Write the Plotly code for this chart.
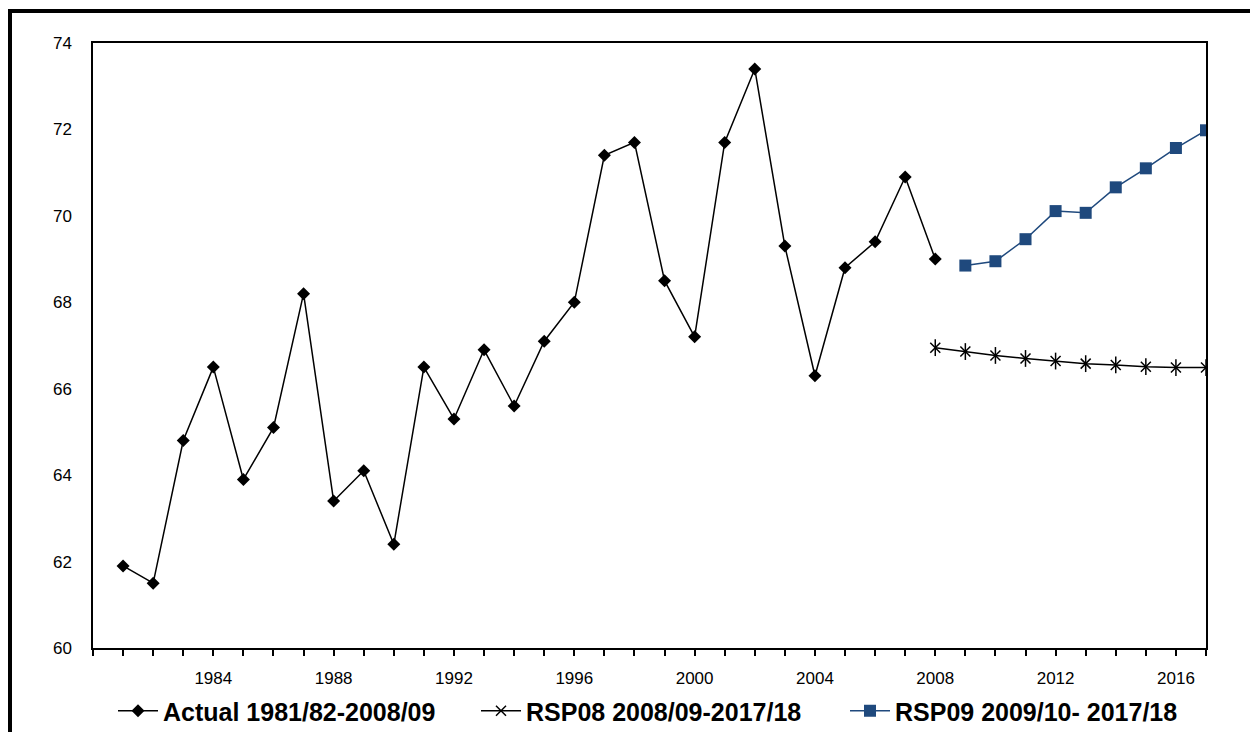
import plotly.graph_objects as go

# ---- data ----
years_actual = list(range(1981, 2009))
actual = [61.9, 61.5, 64.8, 66.5, 63.9, 65.1, 68.2, 63.4, 64.1, 62.4,
          66.5, 65.3, 66.9, 65.6, 67.1, 68.0, 71.4, 71.7, 68.5, 67.2,
          71.7, 73.4, 69.3, 66.3, 68.8, 69.4, 70.9, 69.0]

years_rsp08 = list(range(2008, 2018))
rsp08 = [66.95, 66.86, 66.77, 66.70, 66.64, 66.58, 66.55, 66.51, 66.49, 66.49]

years_rsp09 = list(range(2009, 2018))
rsp09 = [68.85, 68.95, 69.46, 70.11, 70.07, 70.66, 71.10, 71.57, 71.98]

x_tick_labels = [1984, 1988, 1992, 1996, 2000, 2004, 2008, 2012, 2016]
y_tick_labels = [60, 62, 64, 66, 68, 70, 72, 74]

names = ["Actual 1981/82-2008/09", "RSP08 2008/09-2017/18", "RSP09 2009/10- 2017/18"]
blue = "#1F497D"

fig = go.Figure()
fig.add_trace(go.Scatter(
    x=years_actual, y=actual, name=names[0], mode="lines+markers",
    line=dict(color="black", width=1.5),
    marker=dict(symbol="diamond", size=10, color="black"),
    legend="legend"))
fig.add_trace(go.Scatter(
    x=years_rsp08, y=rsp08, name=names[1], mode="lines+markers",
    line=dict(color="black", width=1.5),
    marker=dict(symbol="x-thin-open", size=10, color="black", line=dict(width=1.5, color="black")),
    legend="legend2"))
fig.add_trace(go.Scatter(
    x=years_rsp08, y=rsp08, mode="markers", showlegend=False, hoverinfo="skip",
    marker=dict(symbol="line-ns-open", size=12, color="black", line=dict(width=1.5, color="black"))))
fig.add_trace(go.Scatter(
    x=years_rsp09, y=rsp09, name=names[2], mode="lines+markers",
    line=dict(color=blue, width=1.5),
    marker=dict(symbol="square", size=12, color=blue),
    legend="legend3"))

W, H = 1250, 732
L, R, T, B = 93, 44, 43, 84
pw, ph = W - L - R, H - T - B

def px_x(px):
    return (px - L) / pw

def px_y(py):
    return (H - B - py) / ph

legend_font = dict(family="Liberation Sans, Arial, sans-serif", size=25, color="black", weight="bold")
leg_common = dict(orientation="h", yanchor="middle", xanchor="left", font=legend_font,
                  bgcolor="rgba(0,0,0,0)", borderwidth=0, itemwidth=40)

fig.update_layout(
    width=W, height=H,
    showlegend=True,
    margin=dict(l=L, r=R, t=T, b=B, autoexpand=False),
    paper_bgcolor="white", plot_bgcolor="white",
    font=dict(family="Liberation Sans, Arial, sans-serif", color="black"),
    legend=dict(x=px_x(113), y=px_y(711), **leg_common),
    legend2=dict(x=px_x(476), y=px_y(711), **leg_common),
    legend3=dict(x=px_x(845), y=px_y(711), **leg_common),
    xaxis=dict(
        range=[1980, 2017], tickmode="array", tickvals=x_tick_labels,
        ticktext=[str(v) for v in x_tick_labels],
        ticks="outside", ticklen=6, tickwidth=1.5, tickcolor="black",
        minor=dict(dtick=1, tick0=1980, ticks="outside", ticklen=6, tickwidth=1.5, tickcolor="black", showgrid=False),
        showgrid=False, zeroline=False,
        showline=True, linecolor="black", linewidth=2, mirror=True,
        tickfont=dict(size=17, color="black"), ticklabelstandoff=8,
    ),
    yaxis=dict(
        range=[60, 74], tickmode="array", tickvals=y_tick_labels,
        ticks="", showgrid=False, zeroline=False,
        showline=True, linecolor="black", linewidth=1.5, mirror=True,
        tickfont=dict(size=17, color="black"), ticklabelstandoff=16,
    ),
    shapes=[
        dict(type="line", xref="paper", yref="paper", x0=px_x(10), x1=px_x(10), y0=px_y(760), y1=px_y(9),
             line=dict(color="black", width=4)),
        dict(type="line", xref="paper", yref="paper", x0=px_x(8), x1=px_x(1260), y0=px_y(11), y1=px_y(11),
             line=dict(color="black", width=4)),
    ],
)

fig.write_html("out.html")
